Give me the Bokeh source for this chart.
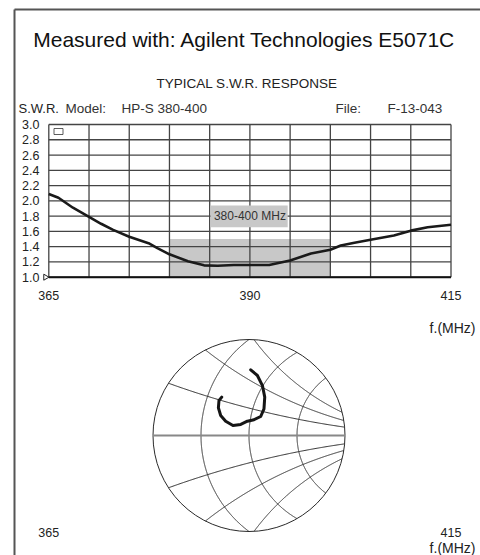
import numpy as np
from bokeh.plotting import figure
from bokeh.models import Range1d
from bokeh.embed import file_html
from bokeh.resources import INLINE
from bokeh.core.properties import value

# ---------------- data ----------------
freq_mhz = [365.0, 366.2, 368.0, 370.0, 371.5, 373.0, 375.0, 377.4, 378.5, 380.0,
            382.3, 384.3, 386.0, 388.0, 390.0, 392.4, 395.0, 397.6, 400.0, 401.3,
            403.0, 405.0, 407.9, 410.0, 412.1, 415.0]
swr = [2.09, 2.04, 1.91, 1.79, 1.70, 1.62, 1.53, 1.445, 1.38, 1.30,
       1.21, 1.155, 1.15, 1.16, 1.16, 1.16, 1.22, 1.31, 1.36, 1.415,
       1.45, 1.49, 1.546, 1.61, 1.655, 1.686]

band_start, band_end, band_top = 380.0, 400.0, 1.5
band_label = "380-400 MHz"

x_grid = [365, 370, 375, 380, 385, 390, 395, 400, 405, 410, 415]
y_grid = [1.0, 1.2, 1.4, 1.6, 1.8, 2.0, 2.2, 2.4, 2.6, 2.8, 3.0]
y_tick_labels = ["1.0", "1.2", "1.4", "1.6", "1.8", "2.0", "2.2", "2.4", "2.6", "2.8", "3.0"]
x_tick_vals = [365, 390, 415]
x_tick_labels = ["365", "390", "415"]
bottom_tick_vals = [365, 415]
bottom_tick_labels = ["365", "415"]

# Smith chart: reflection coefficient trace
gamma_re = [0.018, 0.0875, 0.14, 0.164, 0.156, 0.122, 0.052, -0.017, -0.086, -0.167,
            -0.243, -0.295, -0.319, -0.3125, -0.284]
gamma_im = [0.684, 0.625, 0.52, 0.40, 0.278, 0.198, 0.164, 0.149, 0.115, 0.104,
            0.149, 0.208, 0.289, 0.365, 0.40]
# chart grid as drawn: arcs through the pole, crossing the real axis / ending on the rim
grid_pole = 2.0
grid_axis_cross = [-0.5, 0.0, 0.5]
grid_rim_start_deg = [147.0, 117.0, 87.0]
grid_rim_end_deg = [5.0, 9.0, 14.0]

title_text = "Measured with: Agilent Technologies E5071C"
subtitle_text = "TYPICAL S.W.R. RESPONSE"

# ---------------- layout (page pixels) ----------------
W, H = 480, 555
X0, Y0 = 0, 0
FONT = value("Liberation Sans")

p = figure(width=W, height=H, output_backend="svg", toolbar_location=None,
           x_range=Range1d(X0, X0 + W), y_range=Range1d(Y0 + H, Y0),
           x_axis_location=None, y_axis_location=None, min_border=0)
p.grid.visible = False
p.outline_line_color = None
p.background_fill_color = "white"

# SWR plot frame anchors
px_l, px_r = 48.3, 450.5
py_b, py_t = 276.7, 124.0
kx = (px_r - px_l) / (x_grid[-1] - x_grid[0])
ky = (py_b - py_t) / (y_grid[-1] - y_grid[0])
p.extra_x_ranges["swx"] = Range1d(x_grid[0] - (px_l - X0) / kx, x_grid[-1] + (X0 + W - px_r) / kx)
p.extra_y_ranges["swy"] = Range1d(y_grid[0] - (Y0 + H - py_b) / ky, y_grid[-1] + (py_t - Y0) / ky)

# Smith chart anchors
cx, cy, R = 248.5, 435.0, 96.0
p.extra_x_ranges["smx"] = Range1d((X0 - cx) / R, (X0 + W - cx) / R)
p.extra_y_ranges["smy"] = Range1d(-(Y0 + H - cy) / R, (cy - Y0) / R)

# page border
p.segment(x0=[14, 14], y0=[9, 9], x1=[14, 480], y1=[555, 9], line_color="#555555", line_width=2)

# texts
p.text(x=[244], y=[38.5], text=[title_text], text_font=FONT, text_font_size="21px",
       text_align="center", text_baseline="alphabetic", text_color="#111111")
p.text(x=[246.5], y=[83], text=[subtitle_text], text_font=FONT, text_font_size="13.5px",
       text_align="center", text_baseline="alphabetic", text_color="#222222")
p.text(x=[18], y=[108], text=["S.W.R."], text_font=FONT, text_font_size="13px",
       text_align="left", text_baseline="alphabetic", text_color="#222222")
p.text(x=[65, 121, 335, 387], y=[108, 108, 108, 108],
       text=["Model:", "HP-S 380-400", "File:", "F-13-043"], text_font=FONT,
       text_font_size="13.5px", text_align="left", text_baseline="alphabetic", text_color="#333333")

# SWR chart
sw = dict(x_range_name="swx", y_range_name="swy")
p.quad(left=[band_start], right=[band_end], bottom=[y_grid[0]], top=[band_top],
       fill_color="#c8c8c8", line_color=None, **sw)
p.segment(x0=x_grid, y0=y_grid[0], x1=x_grid, y1=y_grid[-1], line_color="#444444", line_width=1.3, **sw)
p.segment(x0=x_grid[0], y0=y_grid, x1=x_grid[-1], y1=y_grid, line_color="#444444", line_width=1.3, **sw)
p.segment(x0=[x_grid[0]], y0=[y_grid[0]], x1=[x_grid[-1]], y1=[y_grid[0]], line_color="#111111", line_width=2, **sw)
p.quad(left=[385.1], right=[394.7], bottom=[1.655], top=[1.94],
       fill_color="#c8c8c8", line_color=None, **sw)
p.text(x=[390], y=[1.8], text=[band_label], text_font=FONT, text_font_size="12px",
       text_align="center", text_baseline="middle", text_color="#333333", **sw)
p.line(freq_mhz, swr, line_color="#1a1a1a", line_width=2.6, line_join="round", **sw)
p.scatter(x=[45.0], y=[y_grid[0]], marker="triangle", angle=-np.pi / 2, size=6,
          fill_color="white", line_color="#222222", line_width=1, y_range_name="swy")
p.rect(x=[58.0], y=[131.0], width=9, height=6, fill_color="white", line_color="#333333", line_width=0.8)

# tick labels
p.text(x=39, y=y_grid, text=y_tick_labels, text_font=FONT, text_font_size="12.5px",
       text_align="right", text_baseline="middle", text_color="#222222", y_range_name="swy")
p.text(x=x_tick_vals, y=295, text=x_tick_labels, text_font=FONT, text_font_size="12.5px",
       text_align="center", text_baseline="alphabetic", text_color="#222222", x_range_name="swx")
p.text(x=[475], y=[327], text=["f.(MHz)"], text_font=FONT, text_font_size="14px",
       text_align="right", text_baseline="alphabetic", text_color="#222222")
p.text(x=bottom_tick_vals, y=532, text=bottom_tick_labels, text_font=FONT, text_font_size="12.5px",
       text_align="center", text_baseline="alphabetic", text_color="#222222", x_range_name="swx")
p.text(x=[475], y=[547], text=["f.(MHz)"], text_font=FONT, text_font_size="14px",
       text_align="right", text_baseline="alphabetic", text_color="#222222")

# Smith chart grid
sm = dict(x_range_name="smx", y_range_name="smy")


def inside_part(c0x, c0y, rad, n=6000):
    """Part of a circle (through the pole, outside the chart) lying inside the unit circle."""
    a0 = np.arctan2(0.0 - c0y, grid_pole - c0x)
    t = a0 + np.linspace(0.0, 2 * np.pi, n)
    xs = c0x + rad * np.cos(t)
    ys = c0y + rad * np.sin(t)
    m = xs**2 + ys**2 <= 1.0
    return list(xs[m]), list(ys[m])


def circle3(p1, p2, p3):
    A = np.array([[p1[0], p1[1], 1.0], [p2[0], p2[1], 1.0], [p3[0], p3[1], 1.0]])
    b = -np.array([p1[0]**2 + p1[1]**2, p2[0]**2 + p2[1]**2, p3[0]**2 + p3[1]**2])
    D, E, F = np.linalg.solve(A, b)
    c0 = (-D / 2, -E / 2)
    return c0[0], c0[1], np.sqrt(c0[0]**2 + c0[1]**2 - F)


gx, gy = [], []
for a in grid_axis_cross:
    xs, ys = inside_part((a + grid_pole) / 2, 0.0, (grid_pole - a) / 2)
    gx.append(xs); gy.append(ys)
for s_deg, e_deg in zip(grid_rim_start_deg, grid_rim_end_deg):
    for sign in (1, -1):
        s, e = np.radians(s_deg) * sign, np.radians(e_deg) * sign
        ccx, ccy, rr = circle3((np.cos(s), np.sin(s)), (np.cos(e), np.sin(e)), (grid_pole, 0.0))
        xs, ys = inside_part(ccx, ccy, rr)
        gx.append(xs); gy.append(ys)

p.multi_line(gx, gy, line_color="#2a2a2a", line_width=1, **sm)
p.circle(x=[0.0], y=[0.0], radius=[1.0], fill_color=None, line_color="#2a2a2a", line_width=1, **sm)
p.segment(x0=[-1.0], y0=[0.0], x1=[1.0], y1=[0.0], line_color="#888888", line_width=2, **sm)
p.line(gamma_re, gamma_im, line_color="#151515", line_width=3, line_cap="round",
       line_join="round", **sm)

open("out.html", "w").write(file_html(p, INLINE))
